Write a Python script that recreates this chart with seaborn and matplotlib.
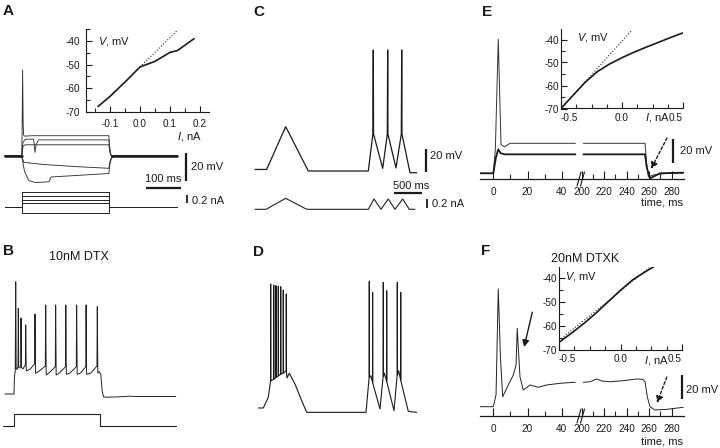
import numpy as np
import pandas as pd
import matplotlib
matplotlib.use("Agg")
import matplotlib.pyplot as plt
from matplotlib.lines import Line2D
from matplotlib.ticker import FixedLocator, FormatStrFormatter
import seaborn as sns

# ======================= DATA =======================
# Panel A: membrane voltage (ms, mV) for current steps
A_rest = -51.0
A_t_spike = [-48, 0, 1.0, 2.6, 4.2, 5.5, 8, 30, 100, 200, 249, 251, 254, 260, 444]
A_v_spike = [-51, -51, -38, 10.4, -28, -36, -36.8, -36.5, -36.5, -36.5, -36.5, -44, -50, -51, -51]
A_t_notch = [-48, 0, 3, 6, 10, 34, 38, 41, 48, 100, 249, 251, 254, 260, 444]
A_v_notch = [-51, -51, -42, -40.5, -39, -39, -48.4, -43, -39.5, -39.5, -39.5, -45, -50, -51, -51]
A_t_mid = [-48, 0, 4, 10, 100, 249, 252, 256, 444]
A_v_mid = [-51, -51, -44, -43, -43, -43, -48, -51, -51]
A_t_hyp1 = [-48, 0, 6, 60, 150, 249, 252, 258, 444]
A_v_hyp1 = [-51, -51, -55.5, -57, -58.5, -59.8, -55, -51, -51]
A_t_hyp2 = [-48, 0, 8, 20, 40, 78, 84, 150, 249, 252, 256, 262, 444]
A_v_hyp2 = [-51, -51, -62, -68.5, -70, -69.4, -66, -65, -63.5, -57, -53, -51, -51]
A_t_rest_pre = [-48, 0]
A_t_rest_post = [258, 444]
# Panel A: current steps (ms, nA)
A_cur_t = [-48, 0, 0, 250, 250, 444]
A_cur_levels = [0.39, 0.28, 0.18, 0.10, -0.135]
# Panel A inset: I-V relation
A_iv_I = [-0.14, -0.1, -0.05, 0.0, 0.05, 0.1, 0.125, 0.18]
A_iv_V = [-67.8, -63.5, -57.4, -51.0, -48.6, -44.8, -44.0, -39.0]
A_fit_I = [0.0, 0.125]
A_fit_V = [-51.0, -35.4]
A_iv_xticks = [-0.1, 0.0, 0.1, 0.2]
A_iv_xminor = [-0.15, -0.05, 0.05, 0.15]
A_iv_yticks = [-70, -60, -50, -40]
A_iv_yminor = [-65, -55, -45, -35]

# Panel B: 10nM DTX, voltage (ms, mV)
B_t = [-26, 0, 1.5, 3.5, 4.9, 6.3, 9, 11.5, 12.3, 13.5, 17, 19.3, 20, 21.3, 26, 32.6, 33.4,
       35, 45, 59, 60, 61.5, 70, 89.5, 90.6, 92, 100, 118, 119, 120.5, 130, 147, 148, 149.5,
       160, 178, 179, 180.5, 190, 205, 206, 207.5, 220, 237, 238, 239.5, 243, 248, 252, 256,
       262, 300, 330, 350, 462]
B_v = [-60, -60, -47, -44, 20.2, -42, -42.5, -40, 1.2, -41, -41.5, -39.5, -5.7, -41, -42, -39, -10.7,
       -43.5, -42.5, -38.5, -2.9, -45.2, -44, -40, 3.6, -46.4, -45, -40.5, 3.6, -46.4, -45, -40.5, 3.6, -46,
       -45, -40.5, 3.6, -46, -45, -40.5, 3.6, -46, -45, -40, 2.4, -45, -44, -46, -58, -62,
       -62.3, -62, -61.6, -61.8, -61.8]
B_cur_t = [-31, 0, 0, 246, 246, 462]
B_cur_i = [0, 0, 0.3, 0.3, 0, 0]

# Panel C: ramp responses (s, mV) and ramp currents (s, nA)
C_t = [0, 0.21, 0.554, 0.962, 2.045, 2.128, 2.135, 2.14, 2.305, 2.388, 2.395, 2.40,
       2.545, 2.641, 2.648, 2.653, 2.798, 2.919]
C_v = [-59.5, -59.5, -21.3, -60.9, -60.9, -28, 47.1, -28, -58.5, -28, 47.1, -28,
       -58.2, -28, 47.1, -28, -62.4, -62.4]
C_cur_t = [0, 0.199, 0.554, 0.933, 2.045, 2.148, 2.274, 2.406, 2.527, 2.666, 2.785, 2.888]
C_cur_i = [0, 0, 0.244, 0, 0, 0.229, 0, 0.229, 0, 0.229, 0, 0]

# Panel D: ramp responses in DTX (s, mV)
D_t = [0.06, 0.15, 0.24,
       0.281, 0.283, 0.286, 0.336, 0.338, 0.341, 0.377, 0.379, 0.382,
       0.419, 0.421, 0.424, 0.462, 0.464, 0.467, 0.509, 0.511, 0.514,
       0.563, 0.565, 0.568,
       0.578, 0.619, 0.722, 0.843, 0.933, 2.004,
       2.060, 2.063, 2.066, 2.09, 2.121, 2.123, 2.126, 2.256,
       2.313, 2.316, 2.319, 2.334, 2.375, 2.377, 2.380, 2.509,
       2.566, 2.569, 2.572, 2.594, 2.628, 2.630, 2.633, 2.767, 2.919]
D_v = [-58.2, -58.2, -48.7,
       -34, 52.5, -34, -32.5, 51.6, -32.5, -31, 51.0, -31,
       -29.5, 50.7, -29.5, -28, 50.1, -28, -27, 47.1, -27,
       -25, 43.6, -26,
       -31.4, -27.2, -36.8, -51.7, -62.1, -62.1,
       -31, 54.9, -31, -29.4, -35, 45.1, -36, -59.1,
       -30, 54.0, -30, -27, -34, 46.5, -35, -60.6,
       -29, 54.0, -29, -25, -33, 45.1, -34, -61.2, -62.1]

# Panel E: two traces (ms, mV), left and right of the axis break
E1_tL = [-7.8, 0, 1.2, 2.9, 4.5, 6.5, 9.8, 48]
E1_vL = [-60, -60, -40, 51.7, -36, -38, -35, -35]
E1_tR = [201.5, 256.3, 257.5, 259.2, 263.7, 275.6, 290.3]
E1_vR = [-35, -35, -50, -62.8, -61.4, -60, -59.6]
E2_tL = [-7.8, 0, 1.5, 2.9, 4.3, 6.8, 48]
E2_vL = [-60, -60, -47, -40, -43.3, -44.2, -44.2]
E2_tR = [201.5, 256.3, 257.8, 260.7, 266.7, 269.6, 290.3]
E2_vR = [-44.2, -44.2, -55, -64.2, -61.4, -60, -59.5]
E_iv_I = [-0.5, -0.4, -0.3, -0.2, -0.1, 0.0, 0.1, 0.2, 0.3, 0.4, 0.5]
E_iv_V = [-70, -64.2, -58.5, -53.9, -50.6, -47.9, -45.5, -43.3, -41.2, -39.1, -37.1]
E_fit_I = [-0.5, 0.08]
E_fit_V = [-70, -36]

# Panel F: 20nM DTXK (ms, mV)
F_tL = [-7.8, 0, 1.6, 2.9, 4.2, 5.5, 7.8, 11.7, 13.3, 14.0, 15.6, 17.5, 21.5, 26.3, 31.2, 39, 46.8, 48]
F_vL = [-60, -60, -50, 38.1, -20, -51.7, -44.7, -33.6, -25.3, 5.3, -35, -46.1, -41.9, -43.8, -41.9, -40.5, -39.7, -39.7]
F_tR = [201.4, 207.4, 213.3, 217.8, 225.2, 234, 241.4, 248.9, 254.2, 256.3, 258.3, 260.7, 265.2, 275.6, 290.3]
F_vR = [-39.7, -39.2, -36.9, -38.6, -39.2, -38.6, -37.75, -36.9, -37.2, -39.2, -51.7, -60, -62.75, -62.2, -60.5]
F_iv_I = [-0.5, -0.4, -0.3, -0.2, -0.1, 0.0, 0.1, 0.2, 0.27]
F_iv_V = [-66.8, -63.0, -59.0, -54.6, -49.8, -45.0, -40.6, -37.3, -35.2]
F_fit_I = [-0.5, 0.29]
F_fit_V = [-66.0, -33.3]

EF_iv_xticks = [-0.5, 0.0, 0.5]
EF_iv_xminor = [-0.375, -0.25, -0.125, 0.125, 0.25, 0.375]
EF_iv_yticks = [-70, -60, -50, -40]
EF_iv_yminor = [-65, -55, -45]
T_left_major = [0, 20, 40]
T_left_minor = [10, 30]
T_right_major = [200, 220, 240, 260, 280]
T_right_minor = [210, 230, 250, 270]

# ======================= STYLE =======================
sns.set_theme(style="ticks")
plt.rcParams['font.family'] = ['Liberation Sans', 'DejaVu Sans']
plt.rcParams['axes.unicode_minus'] = False
plt.rcParams['mathtext.fontset'] = 'custom'
plt.rcParams['mathtext.it'] = 'Liberation Sans:italic'
plt.rcParams['mathtext.rm'] = 'Liberation Sans'

W, H = 720, 448
fig = plt.figure(figsize=(W / 100, H / 100), dpi=100)
fig.patch.set_facecolor('white')
LIMS = []


def px_axes(l, t, r, b, xp, xv, xs, yp, yv, ys):
    ax = fig.add_axes([l / W, 1 - b / H, (r - l) / W, (b - t) / H])
    xl = (xv + (l - xp) / xs, xv + (r - xp) / xs)
    yl = (yv - (b - yp) / ys, yv - (t - yp) / ys)
    ax.set_facecolor('none')
    LIMS.append((ax, xl, yl))
    return ax


def trace(ax, t, v, lw=0.7, color='#222222', ls='-'):
    df = pd.DataFrame({'t': t, 'v': v})
    sns.lineplot(data=df, x='t', y='v', ax=ax, sort=False, estimator=None,
                 color=color, linewidth=lw, linestyle=ls, legend=False)
    ax.set_xlabel('')
    ax.set_ylabel('')


def bar(ax, xs, ys, lw=1.6):
    ax.plot(xs, ys, color='k', lw=lw, clip_on=False, solid_capstyle='butt')


def ftext(x, y, s, size=8, ha='left', va='center', **kw):
    fig.text(x / W, 1 - y / H, s, fontsize=size, ha=ha, va=va, color='k', **kw)


def style_inset(ax, xmaj, xmin, ymaj, ymin, xfmt, xpad, ypad):
    for s in ('top', 'right'):
        ax.spines[s].set_visible(False)
    for s in ('left', 'bottom'):
        ax.spines[s].set_color('k')
        ax.spines[s].set_linewidth(0.8)
    ax.xaxis.set_major_locator(FixedLocator(xmaj))
    ax.xaxis.set_minor_locator(FixedLocator(xmin))
    ax.yaxis.set_major_locator(FixedLocator(ymaj))
    ax.yaxis.set_minor_locator(FixedLocator(ymin))
    ax.xaxis.set_major_formatter(FormatStrFormatter(xfmt))
    ax.yaxis.set_major_formatter(FormatStrFormatter('%d'))
    ax.tick_params(which='major', direction='in', length=4.5, width=0.8, labelsize=7.2,
                   colors='k', bottom=True, left=True, top=False, right=False)
    ax.tick_params(which='minor', direction='in', length=3, width=0.8,
                   bottom=True, left=True, top=False, right=False)
    ax.tick_params(axis='x', which='major', pad=xpad)
    ax.tick_params(axis='y', which='major', pad=ypad)


def edge_labels(ax):
    ticks = ax.xaxis.get_major_ticks()
    ticks[0].label1.set_horizontalalignment('left')
    ticks[-1].label1.set_horizontalalignment('right')


def style_time(ax, maj, mino):
    for s in ('top', 'right', 'left'):
        ax.spines[s].set_visible(False)
    ax.spines['bottom'].set_color('k')
    ax.spines['bottom'].set_linewidth(0.9)
    ax.set_yticks([])
    ax.xaxis.set_major_locator(FixedLocator(maj))
    ax.xaxis.set_minor_locator(FixedLocator(mino))
    ax.xaxis.set_major_formatter(FormatStrFormatter('%d'))
    ax.tick_params(axis='x', which='major', direction='in', length=6, width=0.8,
                   labelsize=7.2, pad=5.5, colors='k', bottom=True, top=False)
    ax.tick_params(axis='x', which='minor', direction='in', length=3.5, width=0.8,
                   bottom=True, top=False)


def arrow(ax, tip, start, dashed=False):
    ax.annotate('', xy=tip, xytext=start, annotation_clip=False,
                arrowprops=dict(arrowstyle='-|>', color='k', lw=1.0,
                                ls=(0, (2.0, 1.6)) if dashed else '-',
                                mutation_scale=10, shrinkA=0, shrinkB=0))


def brk(y0, y1):
    for x0 in (577.0, 580.5):
        fig.add_artist(Line2D([x0 / W, (x0 + 4) / W], [1 - y0 / H, 1 - y1 / H],
                              transform=fig.transFigure, color='k', lw=0.8))


# ======================= PANEL A =======================
axA = px_axes(0, 60, 240, 190, 21.7, 0.0, 0.35, 156, A_rest, 1.4)
for t, v in [(A_t_spike, A_v_spike), (A_t_notch, A_v_notch), (A_t_mid, A_v_mid),
             (A_t_hyp1, A_v_hyp1), (A_t_hyp2, A_v_hyp2)]:
    trace(axA, t, v, lw=0.65, color='#333333')
trace(axA, A_t_rest_pre, [A_rest, A_rest], lw=1.8, color='k')
trace(axA, A_t_rest_post, [A_rest, A_rest], lw=1.8, color='k')
bar(axA, [468.6, 468.6], [-49, -69])
bar(axA, [354, 454], [-74.1, -74.1])
axA.set_axis_off()

axAI = px_axes(0, 185, 240, 222, 21.7, 0.0, 0.35, 207.3, 0.0, 40.0)
for lvl in A_cur_levels:
    trace(axAI, A_cur_t, [0, 0, lvl, lvl, 0, 0], lw=0.7, color='#222222')
bar(axAI, [472, 472], [0.1, 0.3], lw=1.3)
axAI.set_axis_off()

axAi = fig.add_axes([86 / W, 1 - 111.7 / H, (209.3 - 86) / W, (111.7 - 29.3) / H])
axAi.set_facecolor('none')
trace(axAi, A_fit_I, A_fit_V, lw=0.8, color='#222222', ls=':')
trace(axAi, A_iv_I, A_iv_V, lw=1.2, color='k')
style_inset(axAi, A_iv_xticks, A_iv_xminor, A_iv_yticks, A_iv_yminor, '%.1f', 5, 4.5)
LIMS.append((axAi, (-0.18, 0.231), (-70, -35)))

# ======================= PANEL B =======================
axB = px_axes(0, 270, 240, 400, 14, 0.0, 0.35, 394, -60.0, 1.4)
trace(axB, B_t, B_v, lw=0.7, color='#222222')
axB.set_axis_off()
axBI = px_axes(0, 405, 240, 432, 14, 0.0, 0.35, 426.3, 0.0, 40.0)
trace(axBI, B_cur_t, B_cur_i, lw=0.8, color='#222222')
axBI.set_axis_off()

# ======================= PANEL C =======================
axC = px_axes(245, 40, 480, 196, 255, 0.0, 55.4, 170, -60.0, 1.12)
trace(axC, C_t, C_v, lw=0.9, color='k')
bar(axC, [3.081, 3.081], [-41.5, -61.5])
bar(axC, [2.509, 3.009], [-80.8, -80.8])
axC.set_axis_off()
axCI = px_axes(245, 190, 480, 215, 255, 0.0, 55.4, 209.3, 0.0, 45.0)
trace(axCI, C_cur_t, C_cur_i, lw=0.8, color='#222222')
bar(axCI, [3.099, 3.099], [0.02, 0.22], lw=1.3)
axCI.set_axis_off()

# ======================= PANEL D =======================
axD = px_axes(245, 270, 480, 420, 255, 0.0, 55.4, 410, -60.0, 1.12)
trace(axD, D_t, D_v, lw=0.8, color='k')
axD.set_axis_off()

# ======================= PANEL E =======================
axEL = px_axes(480, 20, 580, 179, 493.3, 0.0, 1.71, 173.3, -60.0, 1.2)
axER = px_axes(580, 20, 684, 179, 581.7, 200.0, 1.125, 173.3, -60.0, 1.2)
trace(axEL, E1_tL, E1_vL, lw=0.7, color='#333333')
trace(axEL, E2_tL, E2_vL, lw=1.3, color='k')
trace(axER, E1_tR, E1_vR, lw=0.7, color='#333333')
trace(axER, E2_tR, E2_vR, lw=1.3, color='k')
style_time(axEL, T_left_major, T_left_minor)
style_time(axER, T_right_major, T_right_minor)
bar(axER, [281.4, 281.4], [-31.4, -51.4])
arrow(axER, (261.6, -56.4), (275.8, -30.6), dashed=True)
brk(186, 172)

axEi = fig.add_axes([561 / W, 1 - 108.5 / H, (683 - 561) / W, (108.5 - 29.5) / H])
axEi.set_facecolor('none')
trace(axEi, E_fit_I, E_fit_V, lw=0.8, color='#222222', ls=':')
trace(axEi, E_iv_I, E_iv_V, lw=1.2, color='k')
style_inset(axEi, EF_iv_xticks, EF_iv_xminor, EF_iv_yticks, EF_iv_yminor, '%.1f', 3.0, 1.5)
edge_labels(axEi)
LIMS.append((axEi, (-0.5, 0.5), (-70, -70 + 79 / 2.3)))

# ======================= PANEL F =======================
axFL = px_axes(480, 250, 580, 416, 493.3, 0.0, 1.71, 406.7, -60.0, 1.2)
axFR = px_axes(580, 250, 684, 416, 581.7, 200.0, 1.125, 406.7, -60.0, 1.2)
trace(axFL, F_tL, F_vL, lw=0.7, color='#222222')
trace(axFR, F_tR, F_vR, lw=0.7, color='#222222')
style_time(axFL, T_left_major, T_left_minor)
style_time(axFR, T_right_major, T_right_minor)
bar(axFR, [288.9, 288.9], [-33.2, -53.2])
arrow(axFL, (18.0, -10.3), (22.8, 18.7), dashed=False)
arrow(axFR, (266.9, -56.9), (275.6, -35.3), dashed=True)
brk(423, 409)

axFi = fig.add_axes([559 / W, 1 - 350 / H, (682 - 559) / W, (350 - 266.7) / H])
axFi.set_facecolor('none')
trace(axFi, F_fit_I, F_fit_V, lw=0.8, color='#222222', ls=':')
trace(axFi, F_iv_I, F_iv_V, lw=1.2, color='k')
style_inset(axFi, EF_iv_xticks, EF_iv_xminor, EF_iv_yticks, EF_iv_yminor, '%.1f', 3.0, 1.5)
edge_labels(axFi)
LIMS.append((axFi, (-0.5, 0.5), (-70, -70 + 83.3 / 2.39)))

# ======================= TEXT =======================
for x, y, s in [(3, 11, 'A'), (3, 251, 'B'), (253, 12, 'C'), (253, 252, 'D'),
                (482, 12, 'E'), (481, 251, 'F')]:
    ftext(x, y, s, size=11, weight='bold')
ftext(78.5, 257.5, '10nM DTX', size=9, ha='center')
ftext(585, 259, '20nM DTXK', size=9, ha='center')

ftext(191, 167, '20 mV')
ftext(163.5, 179, '100 ms', ha='center')
ftext(192, 200.5, '0.2 nA')
ftext(98, 41, '$V$, mV')
ftext(177, 136, '$I$, nA')

ftext(430, 156, '20 mV')
ftext(411.5, 185.7, '500 ms', ha='center')
ftext(432, 204, '0.2 nA')

ftext(679.5, 151.5, '20 mV')
ftext(577, 37, '$V$, mV')
ftext(645, 117.3, '$I$, nA')
ftext(683, 202, 'time, ms', ha='right')

ftext(686.5, 390, '20 mV')
ftext(565, 276, '$V$, mV')
ftext(644, 360.7, '$I$, nA')
ftext(683, 441, 'time, ms', ha='right')

for ax, xl, yl in LIMS:
    ax.set_xlim(*xl)
    ax.set_ylim(*yl)

fig.savefig('out.png', dpi=100, facecolor='white')
